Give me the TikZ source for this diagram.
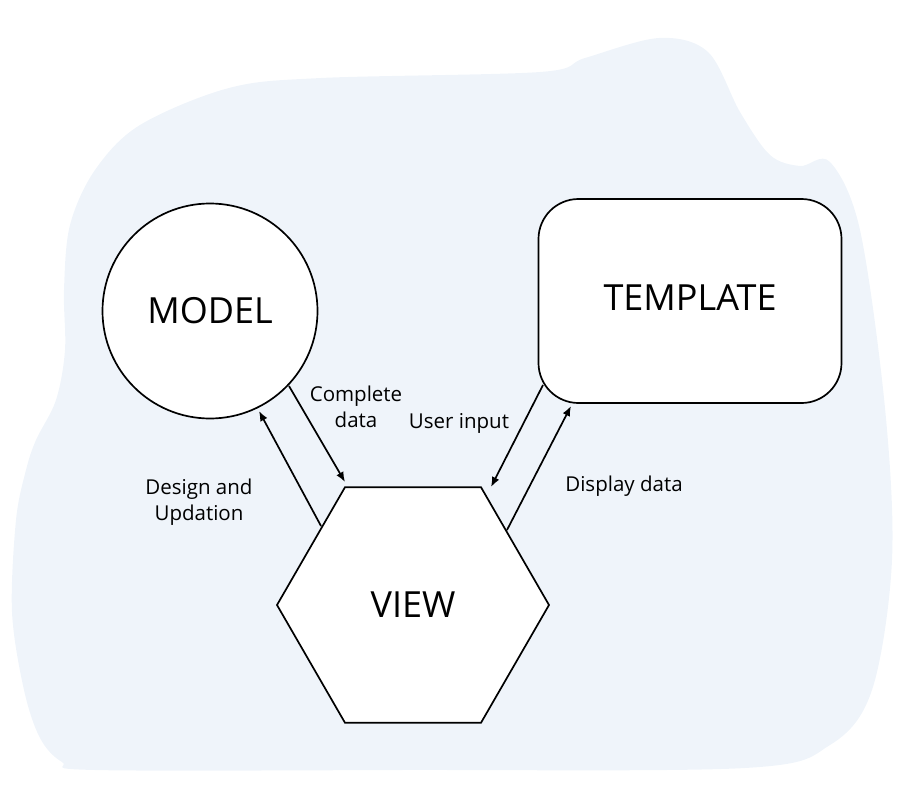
\documentclass[tikz,border=0pt]{standalone}
\usepackage{fontspec}
\setmainfont{Open Sans}
\usetikzlibrary{shapes.geometric,arrows.meta}
\definecolor{blobfill}{RGB}{239,244,250}
\begin{document}
\begin{tikzpicture}[x=1pt,y=-1pt,
  shapebox/.style={draw=black, fill=white, line width=1.7pt, inner sep=0pt, outer sep=0pt, font=\fontsize{36}{40}\selectfont},
  conn/.style={line width=1.7pt, -{Latex[length=10pt,width=8pt]}},
  lbl/.style={font=\fontsize{20.5}{26}\selectfont, align=center, inner sep=0pt}]
\useasboundingbox (0,0) rectangle (900,800);
\fill[blobfill] plot[smooth cycle, tension=0.55] coordinates {
  (36,440) (56,400) (65,350) (64,290) (70,225) (95,170) (140,125) (229,88)
  (321,78) (540,72) (585,58)
  (659,38) (708,52) (740,112) (770,155) (800,166) (830,162) (860,230)
  (885,408) (892,560) (872,690) (830,745) (745,768) (400,770) (95,770)
  (62,762) (40,738) (24,690) (12,612) (16,520) (26,470)};
\node[shapebox, circle, minimum size=215pt] (model) at (210,311) {MODEL};
\node[shapebox, rectangle, rounded corners=40pt, minimum width=303pt, minimum height=204pt] (template) at (690,301) {\raisebox{6pt}{TEMPLATE}};
\node[shapebox, regular polygon, regular polygon sides=6, minimum size=272pt] (view) at (413,605) {\raisebox{-6pt}{VIEW}};
\coordinate (cdS) at (289,386);
\coordinate (cdE) at (345,482);
\coordinate (duS) at (321,526);
\coordinate (duE) at (259,411);
\coordinate (uiS) at (543,385);
\coordinate (uiE) at (491,487);
\coordinate (ddS) at (507,530);
\coordinate (ddE) at (571,406);
\draw[conn] (cdS) -- (cdE);
\draw[conn] (duS) -- (duE);
\draw[conn] (uiS) -- (uiE);
\draw[conn] (ddS) -- (ddE);
\node[lbl] (lcd) at (356,407) {Complete\\data};
\node[lbl] (lui) at (459,423) {User input};
\node[lbl] (ldu) at (199,502) {Design and\\Updation};
\node[lbl] (ldd) at (624,486) {Display data};
\end{tikzpicture}
\end{document}
